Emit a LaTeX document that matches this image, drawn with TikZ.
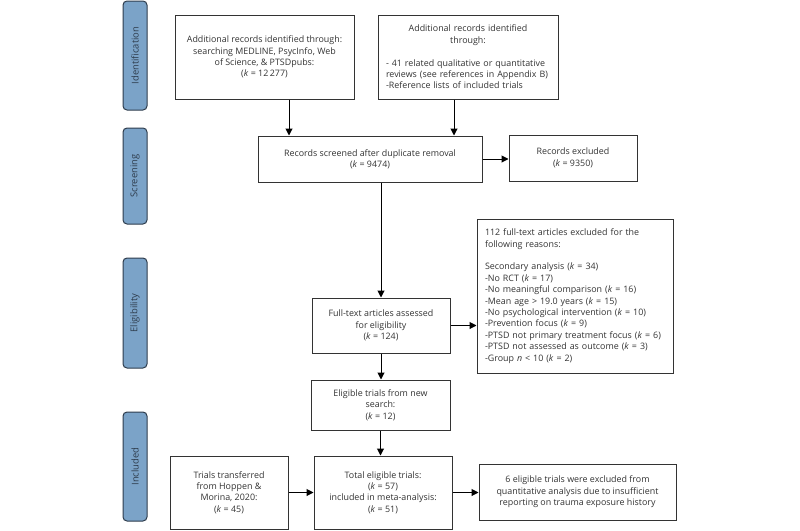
\documentclass[tikz,border=0pt]{standalone}
\usepackage{fontspec}
\setmainfont{Open Sans}
\usetikzlibrary{arrows.meta}
\definecolor{phase}{HTML}{7BA3C8}
\definecolor{phaseborder}{HTML}{2E3C4C}
\definecolor{txt}{HTML}{333333}
\tikzset{
  phasebox/.style={draw=phaseborder, fill=phase, line width=1pt, rounded corners=4pt,
    minimum width=24pt, inner sep=0pt},
  phasetext/.style={rotate=90, text=phaseborder, font=\fontsize{9.4}{11}\selectfont},
  flowbox/.style={draw=black!80, line width=1pt, inner sep=0pt, align=center,
    text=txt, font=\fontsize{8.9}{11.4}\selectfont},
  arr/.style={draw=black, line width=1pt, -{Triangle[length=7pt,width=7pt]}}
}
\begin{document}
\begin{tikzpicture}[x=1pt,y=-1pt]
\useasboundingbox (0,0) rectangle (800,530);
% phase labels
\node[phasebox, minimum height=109pt] (pid) at (135,55.5) {};
\node[phasetext] (tid) at (pid.center) {Identification};
\node[phasebox, minimum height=96pt] (psc) at (135,176) {};
\node[phasetext] (tsc) at (psc.center) {Screening};
\node[phasebox, minimum height=110pt] (pel) at (135,313) {};
\node[phasetext] (tel) at (pel.center) {Eligibility};
\node[phasebox, minimum height=109pt] (pin) at (135,466.5) {};
\node[phasetext] (tin) at (pin.center) {Included};
% boxes
\node[flowbox, minimum width=179pt, minimum height=84pt] (db) at (264.5,57)
  {Additional records identified through:\\searching MEDLINE, PsycInfo, Web\\of Science, \& PTSDpubs:\\(\textit{k} = 12\,277)};
\node[flowbox, minimum width=180pt, minimum height=84pt, text width=164pt, align=left] (add) at (468,57)
  {{\centering Additional records identified\\through:\par}\vspace{11.4pt}\raggedright
   - 41 related qualitative or quantitative\\reviews (see references in Appendix B)\\-Reference lists of included trials};
\node[flowbox, minimum width=224pt, minimum height=46pt] (scr) at (370,159)
  {Records screened after duplicate removal\\(\textit{k} = 9474)};
\node[flowbox, minimum width=128pt, minimum height=46pt] (exc) at (573,158)
  {Records excluded\\(\textit{k} = 9350)};
\node[flowbox, minimum width=138pt, minimum height=55pt] (ft) at (381,325.5)
  {Full-text articles assessed\\for eligibility\\(\textit{k} = 124)};
\node[flowbox, minimum width=196pt, minimum height=154pt, text width=180pt, align=left] (rea) at (575,296)
  {112 full-text articles excluded for the\\following reasons:\\[11.4pt]
   Secondary analysis (\textit{k} = 34)\\
   -No RCT (\textit{k} = 17)\\
   -No meaningful comparison (\textit{k} = 16)\\
   -Mean age > 19.0 years (\textit{k} = 15)\\
   -No psychological intervention (\textit{k} = 10)\\
   -Prevention focus (\textit{k} = 9)\\
   -PTSD not primary treatment focus (\textit{k} = 6)\\
   -PTSD not assessed as outcome (\textit{k} = 3)\\
   -Group \textit{n} < 10 (\textit{k} = 2)};
\node[flowbox, minimum width=139pt, minimum height=50pt] (el) at (380.5,405)
  {Eligible trials from new\\search:\\(\textit{k} = 12)};
\node[flowbox, minimum width=138pt, minimum height=73pt] (tot) at (383,492.5)
  {Total eligible trials:\\(\textit{k} = 57)\\included in meta-analysis:\\(\textit{k} = 51)};
\node[flowbox, minimum width=118pt, minimum height=73pt] (tr) at (229,492.5)
  {Trials transferred\\from Hoppen \&\\Morina, 2020:\\(\textit{k} = 45)};
\node[flowbox, minimum width=197pt, minimum height=56pt] (six) at (577.5,492)
  {6 eligible trials were excluded from\\quantitative analysis due to insufficient\\reporting on trauma exposure history};
% connectors
\coordinate (a1) at (289,0);
\coordinate (a2) at (454,0);
\draw[arr] (db.south -| a1) -- (scr.north -| a1);
\draw[arr] (add.south -| a2) -- (scr.north -| a2);
\draw[arr] (scr.east) -- (scr.east -| exc.west);
\draw[arr] (scr.south -| ft.north) -- (ft.north);
\draw[arr] (ft.east) -- (ft.east -| rea.west);
\draw[arr] (ft.south) -- (ft.south |- el.north);
\draw[arr] (el.south) -- (el.south |- tot.north);
\draw[arr] (tr.east) -- (tr.east -| tot.west);
\draw[arr] (tot.east) -- (tot.east -| six.west);
\end{tikzpicture}
\end{document}
